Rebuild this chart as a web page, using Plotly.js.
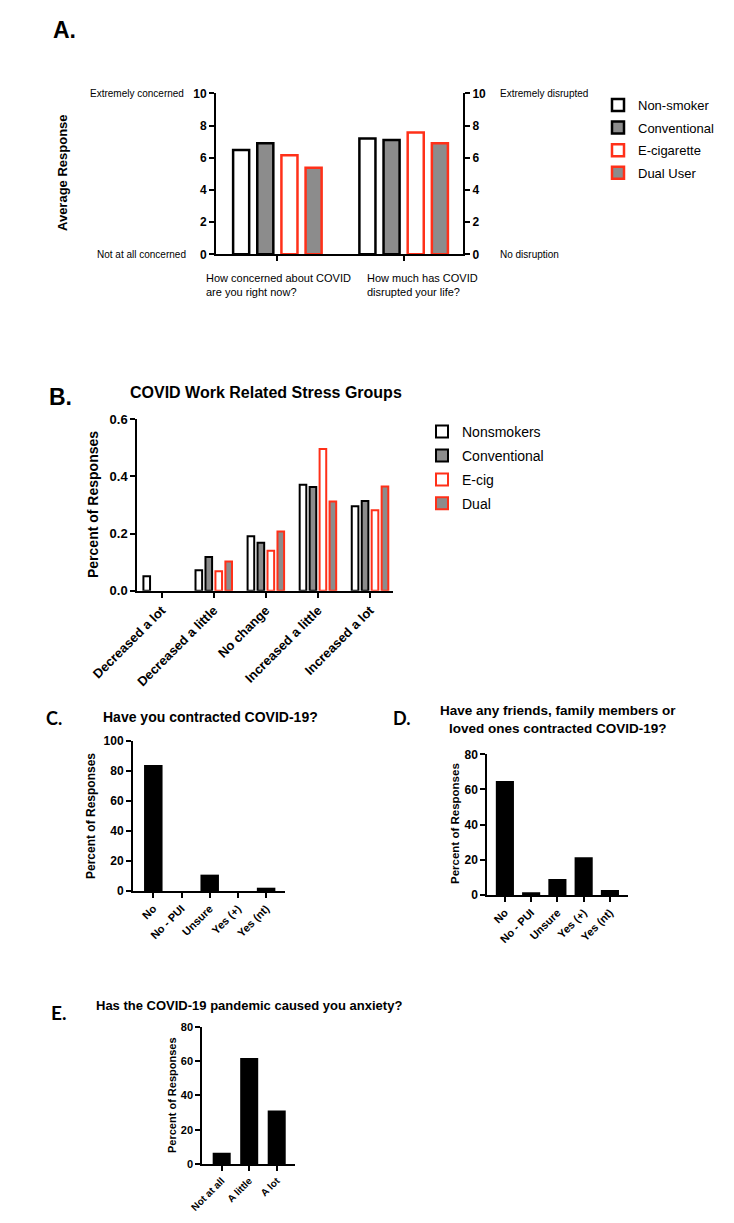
<!DOCTYPE html>
<html><head><meta charset="utf-8">
<script src="https://cdn.plot.ly/plotly-3.0.1.min.js"></script>
<style>html,body{margin:0;padding:0;background:#fff}#chart{width:734px;height:1223px}</style>
</head><body><div id="chart"></div>
<script>
// ---------- DATA ----------
// Panel A
const questionsA = ['How concerned about COVID<br>are you right now?', 'How much has COVID<br>disrupted your life?'];
const groupsA = ['Non-smoker', 'Conventional', 'E-cigarette', 'Dual User'];
const nonSmokerA = [6.48, 7.20];
const conventionalA = [6.89, 7.10];
const eCigaretteA = [6.15, 7.56];
const dualUserA = [5.38, 6.89];
const scaleLeftA = ['Extremely concerned', 'Not at all concerned'];
const scaleRightA = ['Extremely disrupted', 'No disruption'];
// Panel B
const stressCatsB = ['Decreased a lot', 'Decreased a little', 'No change', 'Increased a little', 'Increased a lot'];
const groupsB = ['Nonsmokers', 'Conventional', 'E-cig', 'Dual'];
const nonsmokersB = [0.051, 0.072, 0.191, 0.371, 0.296];
const conventionalB = [0, 0.118, 0.168, 0.363, 0.314];
const eCigB = [0, 0.068, 0.140, 0.496, 0.282];
const dualB = [0, 0.102, 0.207, 0.312, 0.365];
// Panel C
const catsC = ['No', 'No - PUI', 'Unsure', 'Yes (+)', 'Yes (nt)'];
const valsC = [84.0, 0, 10.9, 0, 2.2];
// Panel D
const catsD = ['No', 'No - PUI', 'Unsure', 'Yes (+)', 'Yes (nt)'];
const valsD = [64.8, 1.5, 9.1, 21.4, 2.8];
// Panel E
const catsE = ['Not at all', 'A little', 'A lot'];
const valsE = [6.6, 61.7, 31.1];

// ---------- STYLE ----------
const W = 734, H = 1223;
const fx = v => v / W;
const fy = v => 1 - v / H;
const domX = (a, b) => [a / W, b / W];
const domY = (top, bottom) => [1 - bottom / H, 1 - top / H];
const FONT = 'Liberation Sans, Arial, sans-serif';
const LABFONT = 'Lato, Liberation Sans, sans-serif';
const fills = ['#ffffff', '#8c8c8c', '#ffffff', '#8c8c8c'];
const outlines = ['#000000', '#000000', '#ff3019', '#ff3019'];
// zero-valued bars are not drawn (no outline stub on the axis)
const drawn = vals => vals.map(v => (v === 0 ? null : v));

function axis(extra, tickSize) {
  return Object.assign({
    showline: true, linecolor: '#000', linewidth: 2,
    ticks: 'outside', ticklen: 5, tickwidth: 2, tickcolor: '#000',
    showgrid: false, zeroline: false, fixedrange: true,
    tickfont: {family: FONT, size: tickSize || 12, weight: 'bold', color: '#000'}
  }, extra);
}

const traces = [];
const seriesA = [nonSmokerA, conventionalA, eCigaretteA, dualUserA];
seriesA.forEach((vals, i) => traces.push({
  type: 'bar', x: questionsA, y: vals, name: groupsA[i],
  xaxis: 'x', yaxis: 'y', legend: 'legend', legendgroup: 'a' + i,
  marker: {color: fills[i], line: {color: outlines[i], width: 2.5}},
  hoverinfo: 'skip'
}));
traces.push({type: 'scatter', mode: 'none', x: questionsA, y: [null, null], xaxis: 'x', yaxis: 'y2', showlegend: false, hoverinfo: 'skip'});

const seriesB = [nonsmokersB, conventionalB, eCigB, dualB];
seriesB.forEach((vals, i) => traces.push({
  type: 'bar', x: stressCatsB, y: drawn(vals), name: groupsB[i],
  xaxis: 'x2', yaxis: 'y3', legend: 'legend2', legendgroup: 'b' + i,
  marker: {color: fills[i], line: {color: outlines[i], width: 2}},
  hoverinfo: 'skip'
}));

traces.push({type: 'bar', x: catsC, y: drawn(valsC), xaxis: 'x3', yaxis: 'y4', width: 0.656, showlegend: false,
  marker: {color: '#000', line: {color: '#000', width: 0}}, hoverinfo: 'skip'});
traces.push({type: 'bar', x: catsD, y: drawn(valsD), xaxis: 'x4', yaxis: 'y5', width: 0.69, showlegend: false,
  marker: {color: '#000', line: {color: '#000', width: 0}}, hoverinfo: 'skip'});
traces.push({type: 'bar', x: catsE, y: drawn(valsE), xaxis: 'x5', yaxis: 'y6', width: 0.655, showlegend: false,
  marker: {color: '#000', line: {color: '#000', width: 0}}, hoverinfo: 'skip'});

function ann(text, x, y, opts) {
  return Object.assign({text: text, x: fx(x), y: fy(y), xref: 'paper', yref: 'paper', showarrow: false,
    xanchor: 'center', yanchor: 'middle', font: {family: FONT, size: 12, color: '#000'}}, opts || {});
}
const bold = (size, fam) => ({family: fam || FONT, size: size, weight: 'bold', color: '#000'});
const reg = (size) => ({family: FONT, size: size, color: '#000'});

const annotations = [
  ann('A.', 51, 30, {xanchor: 'left', font: bold(23)}),
  {text: scaleLeftA[0], x: fx(186), xref: 'paper', y: 10, yref: 'y', xanchor: 'right', yanchor: 'middle', showarrow: false, font: reg(10)},
  {text: scaleLeftA[1], x: fx(188), xref: 'paper', y: 0, yref: 'y', xanchor: 'right', yanchor: 'middle', showarrow: false, font: reg(10)},
  {text: scaleRightA[0], x: fx(498), xref: 'paper', y: 10, yref: 'y', xanchor: 'left', yanchor: 'middle', showarrow: false, font: reg(10)},
  {text: scaleRightA[1], x: fx(498), xref: 'paper', y: 0, yref: 'y', xanchor: 'left', yanchor: 'middle', showarrow: false, font: reg(10)},
  ann(questionsA[0], 204, 270, {xanchor: 'left', yanchor: 'top', align: 'left', font: reg(11)}),
  ann(questionsA[1], 365, 270, {xanchor: 'left', yanchor: 'top', align: 'left', font: reg(11)}),
  ann('Average Response', 63, 173, {textangle: -90, font: bold(13)}),
  ann('B.', 47, 397, {xanchor: 'left', font: bold(23)}),
  ann('COVID Work Related Stress Groups', 266, 392, {font: bold(16)}),
  ann('Percent of Responses', 93, 505, {textangle: -90, font: bold(14)}),
  ann('C.', 44, 718, {xanchor: 'left', font: bold(18, LABFONT)}),
  ann('Have you contracted COVID-19?', 210, 717, {font: bold(14)}),
  ann('Percent of Responses', 91, 816, {textangle: -90, font: bold(12)}),
  ann('D.', 391, 718, {xanchor: 'left', font: bold(18, LABFONT)}),
  ann('Have any friends, family members or<br>loved ones contracted COVID-19?', 558, 719, {font: bold(13.5)}),
  ann('Percent of Responses', 455, 824, {textangle: -90, font: bold(11.5)}),
  ann('E.', 49, 1012, {xanchor: 'left', font: bold(19, LABFONT)}),
  ann('Has the COVID-19 pandemic caused you anxiety?', 249, 1005, {font: bold(13)}),
  ann('Percent of Responses', 172, 1095, {textangle: -90, font: bold(11)})
];

const layout = {
  width: W, height: H, margin: {l: 0, r: 0, t: 0, b: 0},
  paper_bgcolor: '#fff', plot_bgcolor: 'rgba(0,0,0,0)',
  barmode: 'group', bargap: 0.235, bargroupgap: 0.335,
  font: {family: FONT, color: '#000'},
  // Panel A
  xaxis: axis({domain: domX(216, 463), range: [-0.486, 1.47], anchor: 'y', showticklabels: false}),
  yaxis: axis({domain: domY(93.3, 254.3), range: [0, 10], dtick: 2, anchor: 'x'}),
  yaxis2: axis({range: [0, 10], dtick: 2, anchor: 'x', overlaying: 'y', side: 'right'}),
  // Panel B
  xaxis2: axis({domain: domX(137.3, 393.3), range: [-0.468, 4.447], anchor: 'y3', tickangle: -45}, 13),
  yaxis3: axis({domain: domY(419.3, 590.7), range: [0, 0.6], dtick: 0.2, tickformat: '.1f', anchor: 'x2'}, 13),
  // Panel C
  xaxis3: axis({domain: domX(133, 285), range: [-0.72, 4.67], anchor: 'y4', tickangle: -45}, 11),
  yaxis4: axis({domain: domY(741, 891), range: [0, 100], dtick: 20, anchor: 'x3'}, 12),
  // Panel D
  xaxis4: axis({domain: domX(487.3, 628.3), range: [-0.67, 4.7], anchor: 'y5', tickangle: -45}, 11),
  yaxis5: axis({domain: domY(754.3, 895), range: [0, 80], dtick: 20, anchor: 'x4'}, 12),
  // Panel E
  xaxis5: axis({domain: domX(202.3, 295), range: [-0.705, 2.665], anchor: 'y6', tickangle: -45}, 10),
  yaxis6: axis({domain: domY(1026.7, 1164), range: [0, 80], dtick: 20, anchor: 'x5'}, 11),
  legend: {x: fx(598), y: fy(90), xanchor: 'left', yanchor: 'top', traceorder: 'grouped', tracegroupgap: 2.7,
    font: reg(13), bgcolor: 'rgba(0,0,0,0)'},
  legend2: {x: fx(422), y: fy(416), xanchor: 'left', yanchor: 'top', traceorder: 'grouped', tracegroupgap: 2.7,
    font: reg(14), bgcolor: 'rgba(0,0,0,0)'},
  annotations: annotations
};

Plotly.newPlot('chart', traces, layout, {displayModeBar: false, staticPlot: true});
</script>
</body></html>
